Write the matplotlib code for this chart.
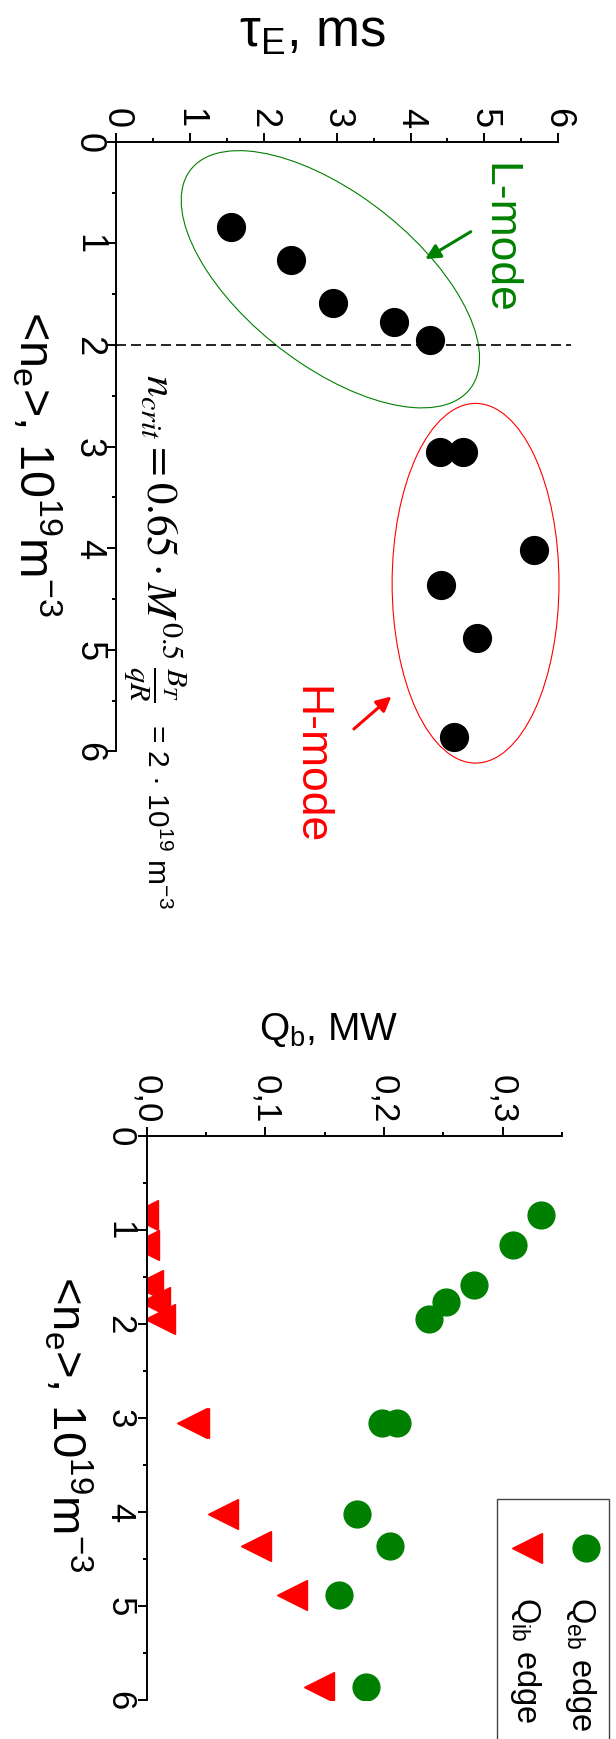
#!/usr/bin/env python3
import matplotlib
matplotlib.use("Agg")
import matplotlib.pyplot as plt
from matplotlib.patches import Ellipse, Rectangle
from matplotlib.lines import Line2D
from matplotlib.ticker import MultipleLocator

plt.rcParams["font.family"] = ["Liberation Sans", "DejaVu Sans"]
plt.rcParams["mathtext.fontset"] = "custom"
plt.rcParams["mathtext.rm"] = "Liberation Sans"
plt.rcParams["mathtext.it"] = "Liberation Sans:italic"
plt.rcParams["mathtext.bf"] = "Liberation Sans:bold"

# line-averaged density, 10^19 m^-3 (same shots in both panels)
ne = [0.84, 1.16, 1.59, 1.77, 1.95, 3.05, 3.05, 4.02, 4.36, 4.88, 5.86]
# energy confinement time, ms
tau_E = [1.56, 2.37, 2.94, 3.78, 4.26, 4.40, 4.71, 5.68, 4.41, 4.91, 4.59]
# edge heat fluxes, MW
Q_eb = [0.332, 0.309, 0.276, 0.252, 0.238, 0.198, 0.211, 0.177, 0.205, 0.162, 0.185]
Q_ib = [-0.003, -0.002, 0.001, 0.007, 0.011, 0.038, 0.040, 0.064, 0.092, 0.1225, 0.1455]

n_crit = 2.0
ne_ticks = [0, 1, 2, 3, 4, 5, 6]
tau_ticks = [0, 1, 2, 3, 4, 5, 6]
Q_ticks = [0.0, 0.1, 0.2, 0.3]
Q_tick_labels = ["0,0", "0,1", "0,2", "0,3"]

W, H = 616, 1740


def fig_box(x0, y0, x1, y1):
    """ axes rectangle from pixel corners (y from top) """
    return [x0 / W, 1 - y1 / H, (x1 - x0) / W, (y1 - y0) / H]


def ftext(fig, x, y, s, **kw):
    return fig.text(x / W, 1 - y / H, s, **kw)


def style_axes(ax, labelsize, xpad, ypad):
    ax.spines["right"].set_visible(False)
    ax.spines["bottom"].set_visible(False)
    for sp in ("left", "top"):
        ax.spines[sp].set_linewidth(1.4)
    ax.xaxis.tick_top()
    ax.tick_params(which="both", direction="out", width=1.4)
    ax.tick_params(which="major", length=6.5)
    ax.tick_params(which="minor", length=3.1)
    ax.tick_params(axis="x", labelrotation=-90, labelsize=labelsize, pad=xpad)
    ax.tick_params(axis="y", labelrotation=-90, labelsize=labelsize, pad=ypad)
    ax.yaxis.set_minor_locator(MultipleLocator(0.5))
    plt.setp(ax.get_yticklabels(), va="center")


fig = plt.figure(figsize=(W / 100, H / 100), dpi=100)
rot = dict(rotation=-90, rotation_mode="anchor", ha="left", va="baseline")
ne_label = "<n$_{\\rm e}$>, 10$^{19}$m$^{-3}$"

# ---- top panel: tau_E vs density
ax1 = fig.add_axes(fig_box(116.5, 142.7, 557.5, 752.3))
ax1.set_xlim(0, 6)
ax1.set_ylim(6, 0)
ax1.set_xticks(tau_ticks)
ax1.set_yticks(ne_ticks)
ax1.xaxis.set_minor_locator(MultipleLocator(0.5))
style_axes(ax1, 26, 4, 1)

ax1.plot(tau_E, ne, "o", color="black", markersize=20, clip_on=False)
ax1.plot([0, 6.18], [n_crit, n_crit], color="black", lw=1.2, dashes=(6, 3), clip_on=False)

ax1.add_patch(Ellipse((2.91, 1.354), 4.418, 1.837, angle=25.7, fill=False,
                      edgecolor="green", lw=0.8, clip_on=False))
ax1.add_patch(Ellipse((4.885, 4.346), 2.27, 3.54, fill=False,
                      edgecolor="red", lw=0.8, clip_on=False))
ax1.annotate("", xy=(4.20, 1.155), xytext=(4.82, 0.886),
             arrowprops=dict(arrowstyle="-|>", color="green", lw=2.2,
                             mutation_scale=22, shrinkA=0, shrinkB=0))
ax1.annotate("", xy=(3.74, 5.46), xytext=(3.23, 5.78),
             arrowprops=dict(arrowstyle="-|>", color="red", lw=2.2,
                             mutation_scale=22, shrinkA=0, shrinkB=0))
ax1.text(5.04, 0.195, "L-mode", color="green", fontsize=32, clip_on=False, **rot)
ax1.text(2.47, 5.35, "H-mode", color="red", fontsize=32, clip_on=False, **rot)
ax1.text(0.40, 2.28, r"$n_{crit}=0.65\cdot M^{0.5}\,\frac{B_T}{qR}$",
         math_fontfamily="stix", fontsize=31, clip_on=False, **rot)
ax1.text(0.415, 5.72, "= 2 · 10$^{19}$ m$^{-3}$", fontsize=21.5, clip_on=False, **rot)

ftext(fig, 313, 46.7, "τ$_{\\rm E}$, ms", ha="center", va="baseline", fontsize=38)
ftext(fig, 20, 311, ne_label, fontsize=35, **rot)

# ---- bottom panel: edge heat fluxes vs density
ax2 = fig.add_axes(fig_box(146.6, 1137, 562.1, 1701))
ax2.set_xlim(0, 0.35)
ax2.set_ylim(6, 0)
ax2.set_xticks(Q_ticks)
ax2.set_xticklabels(Q_tick_labels)
ax2.set_yticks(ne_ticks)
ax2.xaxis.set_minor_locator(MultipleLocator(0.05))
style_axes(ax2, 25, 3, 1)

ax2.plot(Q_eb, ne, "o", color="green", markersize=19.3)
ax2.plot(Q_ib, ne, "<", color="red", markersize=21)

ftext(fig, 329, 1040, "Q$_{\\rm b}$, MW", ha="center", va="baseline", fontsize=28)
ftext(fig, 51.6, 1276, ne_label, fontsize=34, **rot)

# legend drawn by hand, rotated like the rest of the figure
fig.add_artist(Rectangle((497.3 / W, 1 - 1760 / H), 112 / W, 260 / H,
                         transform=fig.transFigure, fill=False,
                         edgecolor="#444444", lw=1))
fig.add_artist(Line2D([586.3 / W], [1 - 1548.7 / H], marker="o", color="green",
                      markersize=19.3, transform=fig.transFigure))
fig.add_artist(Line2D([526.5 / W], [1 - 1548.7 / H], marker="<", color="red",
                      markersize=21, transform=fig.transFigure))
ftext(fig, 571.7, 1597, "Q$_{\\rm eb}$ edge", fontsize=23.5, **rot)
ftext(fig, 516.7, 1597, "Q$_{\\rm ib}$ edge", fontsize=23.5, **rot)

fig.savefig("out.png", dpi=100)
